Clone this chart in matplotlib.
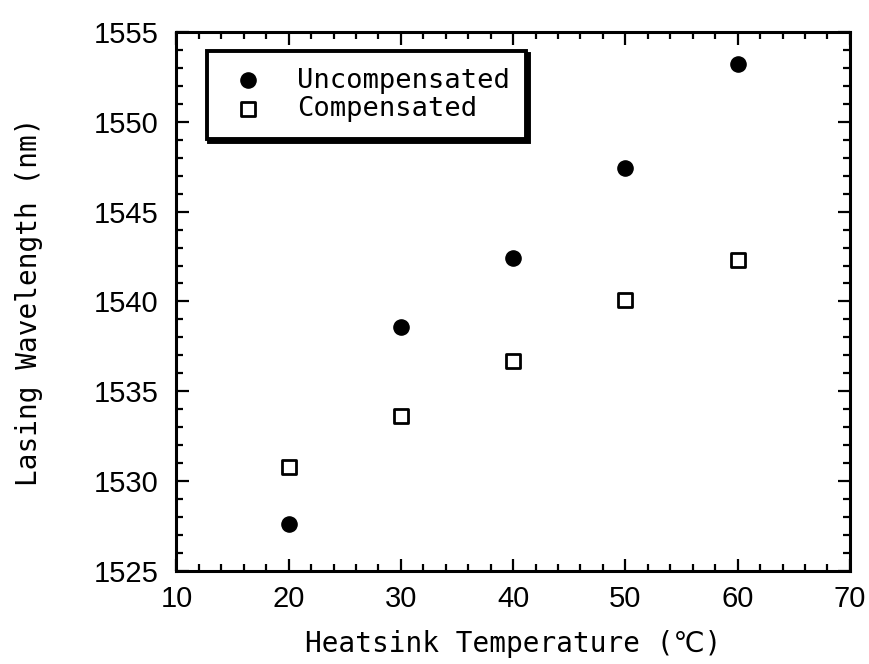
import matplotlib
matplotlib.use("Agg")
import matplotlib.pyplot as plt
from matplotlib.ticker import MultipleLocator

# heatsink temperature (C) and lasing wavelength (nm)
temperature = [20, 30, 40, 50, 60]
uncompensated = [1527.6, 1538.6, 1542.4, 1547.4, 1553.2]
compensated = [1530.8, 1533.6, 1536.7, 1540.1, 1542.3]

label_font = ["DejaVu Sans Mono", "DejaVu Sans"]
plt.rcParams["font.family"] = ["Liberation Sans", "DejaVu Sans"]

fig = plt.figure(figsize=(8.69, 6.64), dpi=100)
ax = fig.add_axes([0.203, 0.140, 0.775, 0.812])

ax.scatter(temperature, uncompensated, s=120, marker="o", color="black",
           label="Uncompensated", zorder=3)
ax.scatter(temperature, compensated, s=95, marker="s", facecolor="white",
           edgecolor="black", linewidth=2.0, label="Compensated", zorder=3)

ax.set_xlim(10, 70)
ax.set_ylim(1525, 1555)
ax.xaxis.set_major_locator(MultipleLocator(10))
ax.xaxis.set_minor_locator(MultipleLocator(2))
ax.yaxis.set_major_locator(MultipleLocator(5))
ax.yaxis.set_minor_locator(MultipleLocator(1))

for side in ax.spines.values():
    side.set_linewidth(2.2)
ax.tick_params(which="both", direction="in", top=True, right=True, width=1.6)
ax.tick_params(which="major", length=9, labelsize=21)
ax.tick_params(which="minor", length=5)
ax.tick_params(axis="x", which="major", pad=10)
ax.tick_params(axis="y", which="major", pad=13)

ax.set_xlabel("Heatsink Temperature (℃)", family=label_font, fontsize=20, labelpad=12)
ax.set_ylabel("Lasing Wavelength (nm)", family=label_font, fontsize=20, labelpad=36)

leg = ax.legend(loc="upper left", bbox_to_anchor=(0.045, 0.965), frameon=True,
                fancybox=False, shadow={"color": "black", "alpha": 1.0},
                prop={"family": label_font, "size": 19.5}, handletextpad=0.9,
                borderpad=0.62, labelspacing=0.1, handlelength=1.8,
                borderaxespad=0)
leg.get_frame().set_edgecolor("black")
leg.get_frame().set_linewidth(2.8)

fig.savefig("out.png", dpi=100)
